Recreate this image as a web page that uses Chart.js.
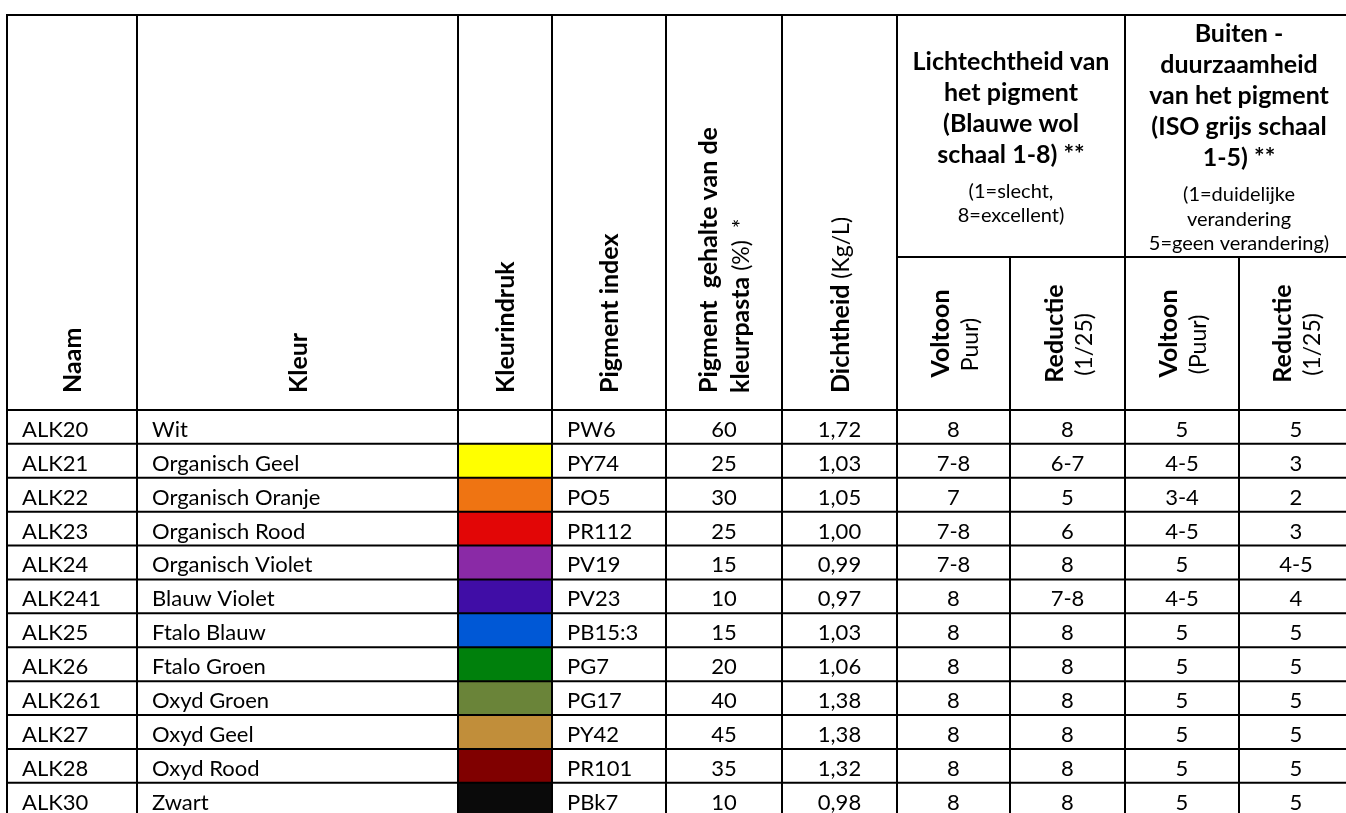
<!DOCTYPE html>
<html>
<head>
<meta charset="utf-8">
<script src="https://cdn.jsdelivr.net/npm/chart.js@4.4.0/dist/chart.umd.min.js"></script>
<style>
html,body{margin:0;padding:0;background:#fff;}
#wrap{width:1346px;height:813px;overflow:hidden;}
canvas{display:block;}
</style>
</head>
<body>
<div id="wrap"><canvas id="c" width="1346" height="813"></canvas></div>
<script>
// ---------------- DATA ----------------
const naam = ['ALK20','ALK21','ALK22','ALK23','ALK24','ALK241','ALK25','ALK26','ALK261','ALK27','ALK28','ALK30'];
const kleur = ['Wit','Organisch Geel','Organisch Oranje','Organisch Rood','Organisch Violet','Blauw Violet','Ftalo Blauw','Ftalo Groen','Oxyd Groen','Oxyd Geel','Oxyd Rood','Zwart'];
const kleurindruk = [null,'#FFFF00','#EF7412','#E20606','#8A2AA6','#400DA6','#0058D6','#00800C','#6A8439','#C18E3A','#800000','#0A0A0A'];
const pigmentIndex = ['PW6','PY74','PO5','PR112','PV19','PV23','PB15:3','PG7','PG17','PY42','PR101','PBk7'];
const pigmentGehalte = [60,25,30,25,15,10,15,20,40,45,35,10];
const dichtheid = [1.72,1.03,1.05,1.00,0.99,0.97,1.03,1.06,1.38,1.38,1.32,0.98];
const lichtVoltoon = ['8','7-8','7','7-8','7-8','8','8','8','8','8','8','8'];
const lichtReductie = ['8','6-7','5','6','8','7-8','8','8','8','8','8','8'];
const buitenVoltoon = ['5','4-5','3-4','4-5','5','4-5','5','5','5','5','5','5'];
const buitenReductie = ['5','3','2','3','4-5','4','5','5','5','5','5','5'];

// header texts
const rotHeaders = ['Naam','Kleur','Kleurindruk','Pigment index'];
const gehalteHeader = ['Pigment  gehalte van de','kleurpasta',' (%)','  *'];
const dichtheidHeader = ['Dichtheid',' (Kg/L)'];
const subHeaders = [['Voltoon','Puur)'],['Reductie','(1/25)'],['Voltoon','(Puur)'],['Reductie','(1/25)']];
const lichtTitle = ['Lichtechtheid van','het pigment','(Blauwe wol','schaal 1-8) **'];
const lichtNote = ['(1=slecht,','8=excellent)'];
const buitenTitle = ['Buiten -','duurzaamheid','van het pigment','(ISO grijs schaal','1-5) **'];
const buitenNote = ['(1=duidelijke','verandering','5=geen verandering)'];

// ---------------- LAYOUT (scale units) ----------------
const COL_EDGES = [0,130,451,545,659,775,890,1003,1118,1232,1346];
const X_MAX = 1339;
const HEADER_UNITS = 11.65;
const SUB_UNITS = 7.14;
const Y_MAX = 23.54;

const FONT = 'Lato, "Open Sans", sans-serif';
const BODY = '22px ' + FONT;
const BOLD = 'bold 25px ' + FONT;
const REG_ROT = '23px ' + FONT;
const SMALL = '20px ' + FONT;

const tablePlugin = {
  id: 'tablePlugin',
  afterDatasetsDraw(chart) {
    const ctx = chart.ctx;
    const xs = chart.scales.x, ys = chart.scales.y;
    const X = v => xs.getPixelForValue(v);
    const Y = v => ys.getPixelForValue(v);
    const W = chart.width, Hc = chart.height;
    const colC = i => (X(COL_EDGES[i]) + X(COL_EDGES[i+1])) / 2;
    ctx.save();
    ctx.fillStyle = '#000';

    function drawRot(segs, cx, y, align) {
      ctx.save();
      let total = 0;
      for (const g of segs) { ctx.font = g.f; total += ctx.measureText(g.t).width; }
      const mainSize = segs[0].s;
      ctx.translate(cx + mainSize * 0.36, align === 'center' ? y + total / 2 : y);
      ctx.rotate(-Math.PI / 2);
      ctx.textAlign = 'left';
      ctx.textBaseline = 'alphabetic';
      let px = 0;
      for (const g of segs) { ctx.font = g.f; ctx.fillText(g.t, px, 0); px += ctx.measureText(g.t).width; }
      ctx.restore();
    }
    const B = t => ({t, f: BOLD, s: 25});
    const R = t => ({t, f: REG_ROT, s: 23});

    const startY = Y(HEADER_UNITS) - 17;
    rotHeaders.forEach((h, i) => drawRot([B(h)], colC(i), startY, 'start'));
    drawRot([B(gehalteHeader[0])], colC(4) - 16, startY, 'start');
    drawRot([B(gehalteHeader[1]), R(gehalteHeader[2]), R(gehalteHeader[3])], colC(4) + 16, startY, 'start');
    drawRot([B(dichtheidHeader[0]), R(dichtheidHeader[1])], colC(5), startY, 'start');
    const subMid = (Y(SUB_UNITS) + Y(HEADER_UNITS)) / 2;
    subHeaders.forEach((sh, k) => {
      const c = colC(6 + k);
      drawRot([B(sh[0])], c - 14, subMid, 'center');
      drawRot([R(sh[1])], c + 16, subMid + 11, 'center');
    });

    function drawGroup(title, note, cx) {
      const bp = 31, sp = 24.5, gap = 35;
      const span = (title.length - 1) * bp + gap + (note.length - 1) * sp;
      const cellMid = (Y(0) + Y(SUB_UNITS)) / 2;
      let y = cellMid + 10 - span / 2;
      ctx.textAlign = 'center';
      ctx.textBaseline = 'alphabetic';
      ctx.font = BOLD;
      title.forEach((t, i) => { ctx.fillText(t, cx, y); if (i < title.length - 1) y += bp; });
      y += gap;
      ctx.font = SMALL;
      note.forEach((t) => { ctx.fillText(t, cx, y); y += sp; });
    }
    drawGroup(lichtTitle, lichtNote, (X(COL_EDGES[6]) + X(COL_EDGES[8])) / 2);
    drawGroup(buitenTitle, buitenNote, (X(COL_EDGES[8]) + X(COL_EDGES[10])) / 2);

    ctx.font = BODY;
    ctx.textBaseline = 'alphabetic';
    const pad = 15;
    for (let i = 0; i < naam.length; i++) {
      const by = Y(HEADER_UNITS + i + 1) - 7;
      ctx.textAlign = 'left';
      ctx.fillText(naam[i], X(COL_EDGES[0]) + pad, by);
      ctx.fillText(kleur[i], X(COL_EDGES[1]) + pad, by);
      ctx.fillText(pigmentIndex[i], X(COL_EDGES[3]) + pad, by);
      ctx.textAlign = 'center';
      ctx.fillText(String(pigmentGehalte[i]), colC(4), by);
      ctx.fillText(dichtheid[i].toFixed(2).replace('.', ','), colC(5), by);
      ctx.fillText(lichtVoltoon[i], colC(6), by);
      ctx.fillText(lichtReductie[i], colC(7), by);
      ctx.fillText(buitenVoltoon[i], colC(8), by);
      ctx.fillText(buitenReductie[i], colC(9), by);
    }

    ctx.strokeStyle = '#000';
    ctx.lineWidth = 2;
    const hline = (y, x0, x1) => { ctx.beginPath(); ctx.moveTo(x0, y); ctx.lineTo(x1, y); ctx.stroke(); };
    const vline = (x, y0, y1) => { ctx.beginPath(); ctx.moveTo(x, y0); ctx.lineTo(x, y1); ctx.stroke(); };
    const left = X(0) - 1;
    hline(Y(0), left, W);
    hline(Y(HEADER_UNITS), left, W);
    hline(Y(SUB_UNITS), X(COL_EDGES[6]), W);
    for (let i = 1; i <= naam.length; i++) hline(Y(HEADER_UNITS + i), left, W);
    const top = Y(0) - 1;
    [0,1,2,3,4,5,6,8,10].forEach(k => vline(X(COL_EDGES[k]), top, Hc));
    [7,9].forEach(k => vline(X(COL_EDGES[k]), Y(SUB_UNITS), Hc));
    ctx.restore();
  }
};

new Chart(document.getElementById('c'), {
  type: 'bar',
  data: {
    datasets: [{
      label: 'Kleurindruk',
      data: kleurindruk.map((c, i) => ({ x: [COL_EDGES[2], COL_EDGES[3]], y: HEADER_UNITS + i + 0.5 })),
      backgroundColor: kleurindruk.map(c => c || 'rgba(255,255,255,0)'),
      borderWidth: 0,
      barPercentage: 1,
      categoryPercentage: 1
    }]
  },
  options: {
    indexAxis: 'y',
    responsive: false,
    animation: false,
    devicePixelRatio: 1,
    layout: { padding: { left: 7, top: 15, right: 0, bottom: 0 } },
    scales: {
      x: { type: 'linear', min: 0, max: X_MAX, display: false, offset: false },
      y: { type: 'linear', min: 0, max: Y_MAX, reverse: true, display: false, offset: false }
    },
    plugins: { legend: { display: false }, tooltip: { enabled: false } }
  },
  plugins: [tablePlugin]
});
</script>
</body>
</html>
